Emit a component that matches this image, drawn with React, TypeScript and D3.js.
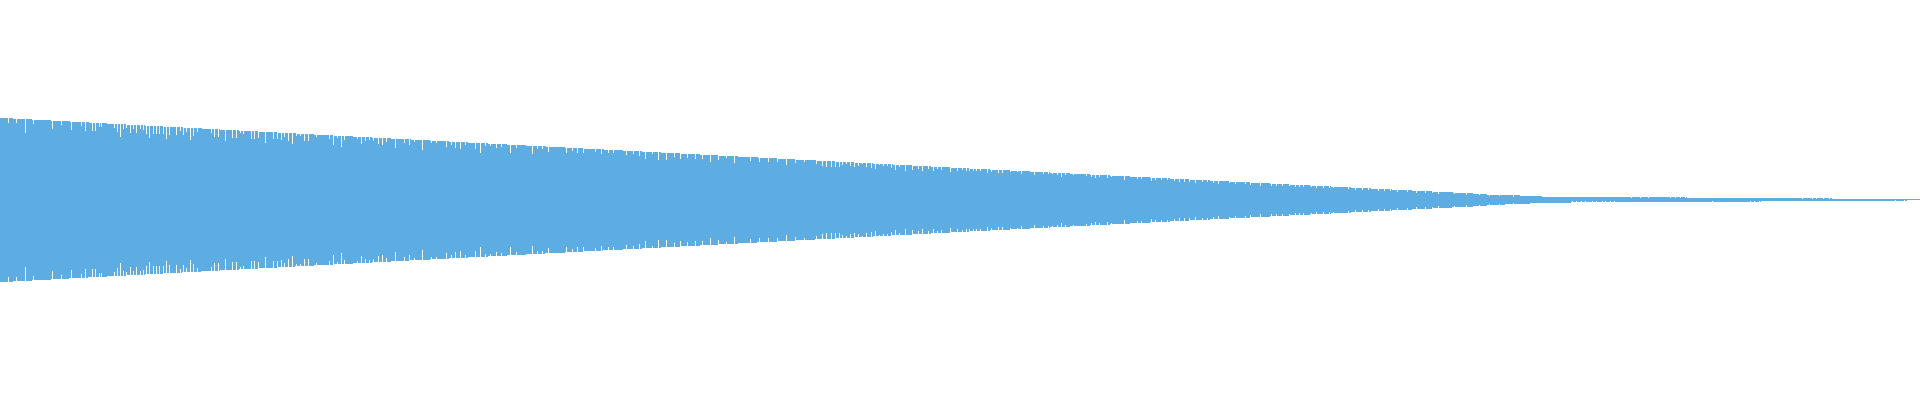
import React from "react";
import * as d3 from "d3";

// Envelope of the waveform: x position (sample column) and half-amplitudes above / below the centre line
const envX = [0, 320, 640, 960, 1280, 1487, 1487, 1505, 1505, 1520, 1520, 1530, 1530, 1542, 1542, 1571, 1571, 1687, 1687, 1761, 1761, 1832, 1832, 1907, 1907, 1920];
const envUp = [82.2, 65.2, 48.6, 32.0, 16.0, 5.8, 5, 5, 5, 5, 4, 4, 4, 4, 3, 3, 3, 3, 2, 2, 2, 2, 1, 1, 1, 1];
const envDown = [82.2, 65.2, 48.6, 32.0, 16.0, 5.8, 5, 5, 4, 4, 4, 4, 3, 3, 3, 3, 2, 2, 2, 2, 1, 1, 1, 1, 0, 0];

// Columns whose peak is lower than the envelope (symmetric part)
const bodyDipX = [
  8, 16, 25, 33, 52, 61, 71, 81, 85, 92, 95, 99, 101, 114, 117, 120, 123, 126, 130, 133, 136, 140, 143, 146, 149, 153, 156, 159, 163, 166, 169, 176, 180, 183, 186, 190, 193, 197, 211, 214, 218, 225, 232, 236, 240, 243, 251, 254, 258, 265, 273, 277, 281, 284, 288, 292, 296, 300, 304, 308, 316,
  329, 333, 337, 341, 344, 357, 361, 365, 369, 373, 378, 382, 386, 395, 404, 409, 414, 422, 431, 436, 446, 451, 455, 460, 465, 475, 480, 485, 490, 496, 501, 510, 516, 532, 537, 542, 548, 566, 572, 577, 583, 595, 601, 608, 613, 626, 633, 639,
  645, 652, 658, 666, 674, 680, 687, 695, 702, 710, 718, 726, 734, 750, 759, 768, 777, 786, 795, 804, 816, 822, 826, 831, 835, 839, 842, 846, 850, 854, 858, 862, 866, 871, 875, 879, 883, 887, 891, 895, 899, 905, 912, 918, 922, 928, 933, 937, 941, 950, 957,
  962, 966, 969, 973, 976, 980, 987, 991, 998, 1002, 1010, 1017, 1021, 1034, 1043, 1048, 1052, 1057, 1061, 1065, 1073, 1086, 1091, 1095, 1099, 1107, 1111, 1124, 1137, 1141, 1151, 1155, 1161, 1167, 1174, 1179, 1184, 1189, 1195, 1202, 1207, 1213, 1218, 1229, 1235, 1245, 1250, 1260, 1271, 1276,
  1282, 1289, 1295, 1299, 1303, 1311, 1316, 1323, 1329, 1333, 1348, 1355, 1362, 1368, 1378, 1384, 1390, 1397, 1407, 1416, 1425, 1432, 1438, 1454, 1466, 1479, 1489, 1499, 1513,
];
const bodyDipAmp = [
  77, 77, 67, 76, 71, 75, 70, 74, 69, 69, 69, 73, 73, 72, 68, 63, 71, 72, 67, 71, 67, 71, 70, 66, 62, 66, 66, 66, 66, 61, 65, 65, 69, 65, 68, 60, 64, 68, 67, 63, 63, 59, 62, 62, 67, 66, 61, 61, 62, 57, 61, 61, 60, 63, 59, 56, 64, 64, 59, 59, 63,
  61, 55, 62, 53, 60, 61, 56, 59, 60, 59, 56, 55, 58, 52, 57, 55, 58, 50, 57, 57, 53, 55, 52, 51, 55, 51, 47, 54, 54, 52, 53, 47, 52, 46, 51, 51, 48, 47, 49, 47, 47, 48, 46, 47, 47, 45, 46, 44,
  41, 46, 40, 40, 43, 41, 42, 41, 41, 38, 40, 42, 37, 39, 38, 38, 38, 35, 37, 38, 36, 34, 33, 33, 33, 33, 35, 36, 34, 33, 34, 36, 33, 32, 31, 35, 34, 34, 32, 30, 33, 29, 30, 31, 29, 31, 29, 31, 30, 28, 29,
  30, 29, 29, 29, 29, 29, 27, 28, 27, 27, 28, 28, 26, 25, 26, 26, 26, 25, 23, 25, 25, 24, 23, 22, 23, 22, 23, 20, 21, 21, 19, 20, 20, 20, 19, 18, 18, 18, 17, 18, 18, 17, 16, 17, 16, 16, 15, 14, 14, 14,
  14, 14, 13, 13, 13, 13, 12, 12, 12, 12, 11, 10, 10, 10, 9, 9, 9, 8, 8, 7, 7, 7, 6, 6, 5, 5, 4, 4, 3,
];

// Tail columns with separate upper / lower peaks
const tailDipX = [1572, 1576, 1581, 1585, 1592, 1596, 1602, 1605, 1610, 1614, 1631, 1640, 1648, 1670, 1675, 1680, 1685, 1712, 1750, 1754, 1759, 1802, 1812, 1816, 1823, 1829, 1895, 1904];
const tailDipUp = [3, 3, 3, 3, 3, 3, 3, 3, 3, 3, 2, 2, 2, 2, 2, 2, 2, 2, 2, 2, 2, 1, 1, 1, 1, 1, 1, 1];
const tailDipDown = [1, 1, 1, 1, 1, 1, 1, 1, 1, 1, 2, 2, 2, 2, 2, 2, 2, 1, 1, 1, 1, 1, 1, 1, 1, 1, 0, 0];

const W = 1920;
const H = 400;
const COLOR = "#5dade2";

export default function App() {
  const x = d3.scaleLinear().domain([0, W]).range([0, W]);
  const y = d3.scaleLinear().domain([-H / 2, H / 2]).range([H, 0]);

  const idx = d3.range(envX.length);
  const area = d3
    .area<number>()
    .x((i) => x(envX[i]))
    .y0((i) => y(-envDown[i]))
    .y1((i) => y(envUp[i]))
    .curve(d3.curveLinear);

  const dips: { x: number; up: number; down: number }[] = [];
  bodyDipX.forEach((d, i) => dips.push({ x: d, up: bodyDipAmp[i], down: bodyDipAmp[i] }));
  tailDipX.forEach((d, i) => dips.push({ x: d, up: tailDipUp[i], down: tailDipDown[i] }));

  const centre = y(0);

  return (
    <svg
      width={W}
      height={H}
      style={{ position: "absolute", left: 0, top: 0, display: "block", background: "#ffffff" }}
      shapeRendering="crispEdges"
    >
      <path d={area(idx) || ""} fill={COLOR} />
      <g fill="#ffffff">
        {dips.map((d, i) => (
          <g key={i}>
            <rect x={x(d.x)} y={centre - 110} width={1} height={y(d.up) - (centre - 110)} />
            <rect x={x(d.x)} y={y(-d.down)} width={1} height={centre + 110 - y(-d.down)} />
          </g>
        ))}
      </g>
    </svg>
  );
}
